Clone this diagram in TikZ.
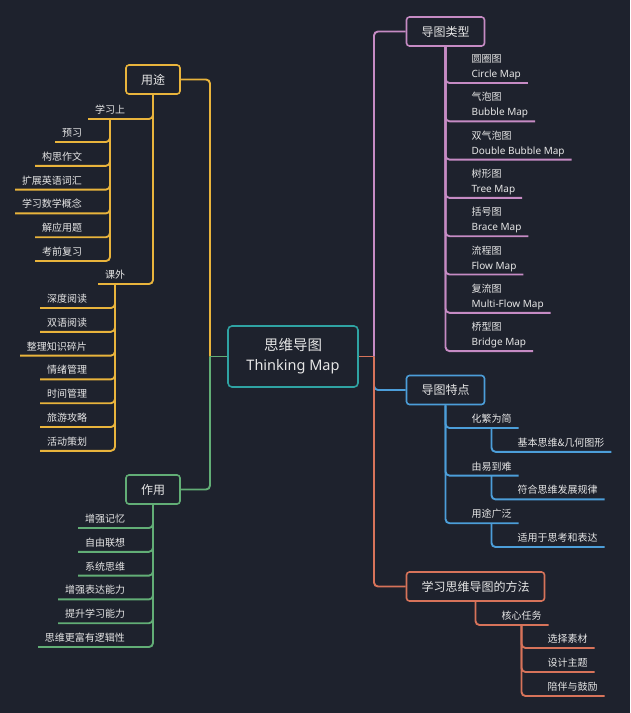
\documentclass[tikz,border=0pt]{standalone}
\usepackage{fontspec}
\setmainfont{Noto Sans}
\newfontfamily\cjk{Noto Sans CJK SC}
\usetikzlibrary{backgrounds}
\definecolor{bg}{HTML}{1E222D}
\definecolor{txt}{HTML}{E6E6E6}
\definecolor{yl}{HTML}{E9B43C}
\definecolor{gn}{HTML}{62AE76}
\definecolor{tl}{HTML}{2FA3A3}
\definecolor{pk}{HTML}{C68BC4}
\definecolor{bl}{HTML}{4C9ED9}
\definecolor{orr}{HTML}{D7735A}
\begin{document}
\begin{tikzpicture}[x=1pt,y=-1pt,
  conn/.style={line width=1.9pt, rounded corners=4pt},
  leafl/.style={anchor=south east, inner xsep=7pt, inner ysep=0pt, outer xsep=0pt, outer ysep=5.5pt, text depth=0pt, font=\cjk\fontsize{10}{14}\selectfont, text=txt},
  leafr/.style={leafl, anchor=south west},
  leaftwo/.style={leafr, align=left, font=\fontsize{10}{15}\selectfont},
  topic/.style={draw, line width=1.6pt, rounded corners=3pt, fill=bg, text=txt, font=\cjk\fontsize{12}{14}\selectfont, minimum height=29pt, inner xsep=15pt},
  central/.style={draw=tl, line width=1.6pt, rounded corners=4pt, fill=bg, minimum width=130pt, minimum height=61pt, align=center, text=txt, font=\fontsize{14.5}{20}\selectfont},
]
\begin{pgfonlayer}{background}
\fill[bg] (0,0) rectangle (630,713);
\end{pgfonlayer}
\useasboundingbox (0,0) rectangle (630,713);

% trunk points
\coordinate (lt) at (210,356.5);
\coordinate (rt) at (374,356.5);

% central and topic boxes
\node[central] (c) at (293,356.5) {{\cjk 思维导图}\\Thinking Map};
\node[topic, draw=yl] (yt) at (153,79.5) {用途};
\node[topic, draw=gn] (zy) at (153,489.5) {作用};
\node[topic, draw=pk] (tt) at (445.5,31.5) {导图类型};
\node[topic, draw=bl] (tz) at (445.5,390) {导图特点};
\node[topic, draw=orr] (mt) at (475.5,586.5) {学习思维导图的方法};

% ---- 用途 leaves
\node[leafl] (xx) at (132,119) {学习上};
\node[leafl] (kw) at (132,284) {课外};
\node[leafl] (a1) at (89,142) {预习};
\node[leafl] (a2) at (89,165.8) {构思作文};
\node[leafl] (a3) at (89,189.6) {扩展英语词汇};
\node[leafl] (a4) at (89,213.4) {学习数学概念};
\node[leafl] (a5) at (89,237.2) {解应用题};
\node[leafl] (a6) at (89,261) {考前复习};
\node[leafl] (b1) at (94,308) {深度阅读};
\node[leafl] (b2) at (94,331.8) {双语阅读};
\node[leafl] (b3) at (94,355.6) {整理知识碎片};
\node[leafl] (b4) at (94,379.4) {情绪管理};
\node[leafl] (b5) at (94,403.2) {时间管理};
\node[leafl] (b6) at (94,427) {旅游攻略};
\node[leafl] (b7) at (94,450.8) {活动策划};

% ---- 作用 leaves
\node[leafl] (z1) at (132,528) {增强记忆};
\node[leafl] (z2) at (132,551.8) {自由联想};
\node[leafl] (z3) at (132,575.6) {系统思维};
\node[leafl] (z4) at (132,599.4) {增强表达能力};
\node[leafl] (z5) at (132,623.2) {提升学习能力};
\node[leafl] (z6) at (132,647) {思维更富有逻辑性};

% ---- 导图类型 leaves
\node[leaftwo] (t1) at (464.5,83) {{\cjk 圆圈图}\\Circle Map};
\node[leaftwo] (t2) at (464.5,121.3) {{\cjk 气泡图}\\Bubble Map};
\node[leaftwo] (t3) at (464.5,159.6) {{\cjk 双气泡图}\\Double Bubble Map};
\node[leaftwo] (t4) at (464.5,197.9) {{\cjk 树形图}\\Tree Map};
\node[leaftwo] (t5) at (464.5,236.2) {{\cjk 括号图}\\Brace Map};
\node[leaftwo] (t6) at (464.5,274.5) {{\cjk 流程图}\\Flow Map};
\node[leaftwo] (t7) at (464.5,312.8) {{\cjk 复流图}\\Multi-Flow Map};
\node[leaftwo] (t8) at (464.5,351.1) {{\cjk 桥型图}\\Bridge Map};

% ---- 导图特点 leaves
\node[leafr] (f1) at (464.5,428) {化繁为简};
\node[leafr] (f2) at (464.5,475.6) {由易到难};
\node[leafr] (f3) at (464.5,523.2) {用途广泛};
\node[leafr] (g1) at (510.5,451.8) {基本思维\&几何图形};
\node[leafr] (g2) at (510.5,499.4) {符合思维发展规律};
\node[leafr] (g3) at (510.5,547) {适用于思考和表达};

% ---- 方法 leaves
\node[leafr] (m1) at (494.5,625) {核心任务};
\node[leafr] (n1) at (540.5,648) {选择素材};
\node[leafr] (n2) at (540.5,672) {设计主题};
\node[leafr] (n3) at (540.5,696) {陪伴与鼓励};

% ---- connectors (behind the boxes)
\begin{pgfonlayer}{background}
\draw[conn,yl] (lt) |- (yt.east);
\draw[conn,gn] (c.west) -- (lt);
\draw[conn,gn] (lt) |- (zy.east);
\draw[conn,pk] (rt) |- (tt.west);
\draw[conn,bl] (rt) |- (tz.west);
\draw[conn,orr] (rt) |- (mt.west);
\draw[conn,orr] (c.east) -- (rt);

\foreach \n in {xx,kw} \draw[conn,yl] (yt.south) |- (\n.south west);
\foreach \n in {a1,a2,a3,a4,a5,a6} \draw[conn,yl] (xx.south) |- (\n.south west);
\foreach \n in {b1,b2,b3,b4,b5,b6,b7} \draw[conn,yl] (kw.south) |- (\n.south west);
\foreach \n in {z1,z2,z3,z4,z5,z6} \draw[conn,gn] (zy.south) |- (\n.south west);
\foreach \n in {t1,t2,t3,t4,t5,t6,t7,t8} \draw[conn,pk] (tt.south) |- (\n.south east);
\foreach \n in {f1,f2,f3} \draw[conn,bl] (tz.south) |- (\n.south east);
\draw[conn,bl] (f1.south) |- (g1.south east);
\draw[conn,bl] (f2.south) |- (g2.south east);
\draw[conn,bl] (f3.south) |- (g3.south east);
\draw[conn,orr] (mt.south) |- (m1.south east);
\foreach \n in {n1,n2,n3} \draw[conn,orr] (m1.south) |- (\n.south east);
\end{pgfonlayer}
\end{tikzpicture}
\end{document}
